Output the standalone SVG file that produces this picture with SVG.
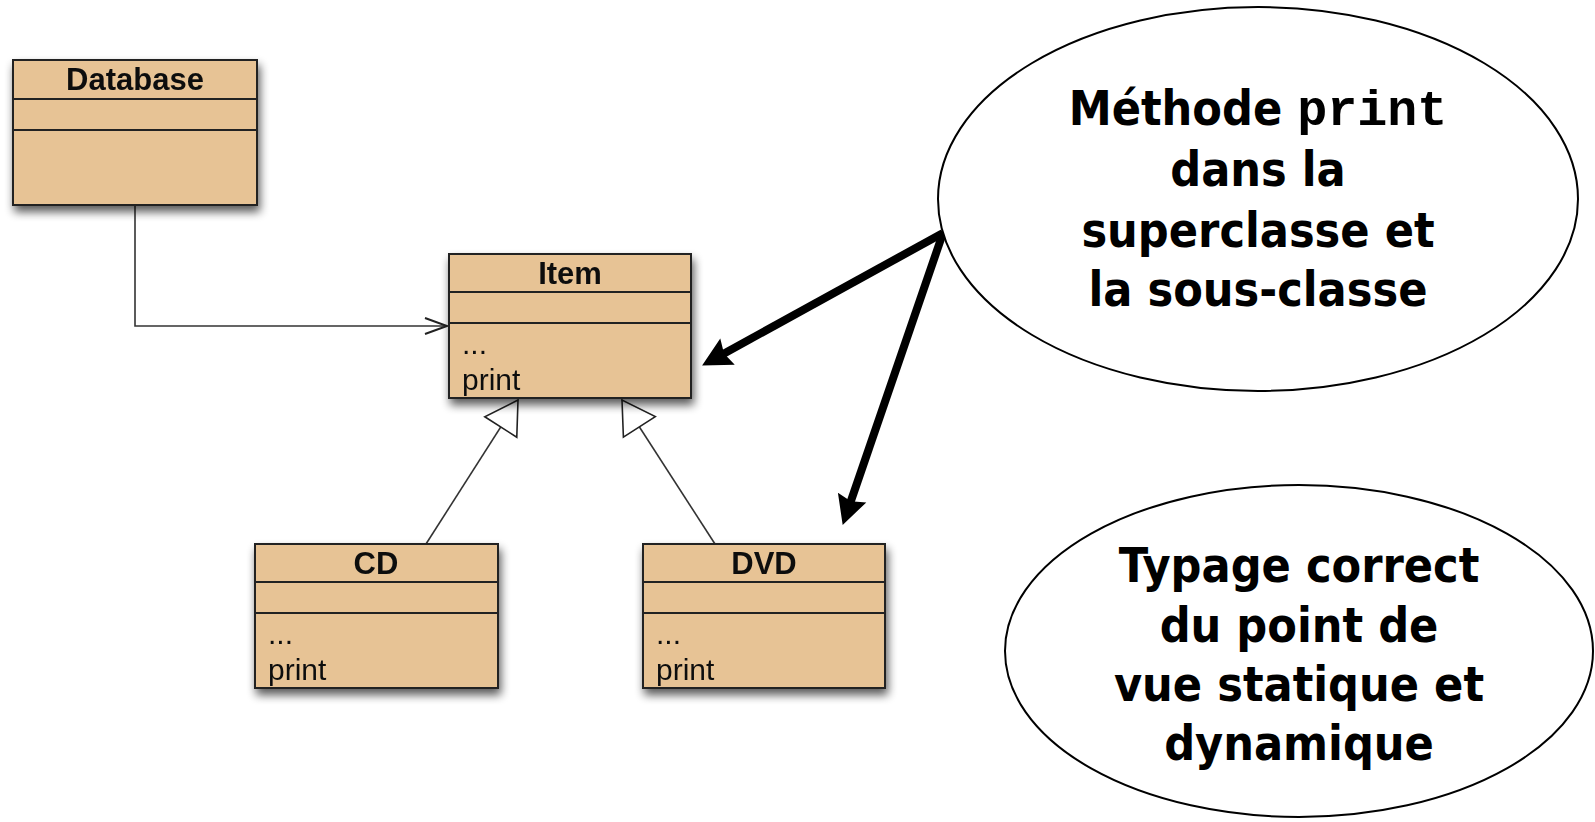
<svg xmlns="http://www.w3.org/2000/svg" width="1595" height="822" viewBox="0 0 1595 822">
  <defs>
    <filter id="shadow" x="-15%" y="-15%" width="140%" height="150%">
      <feGaussianBlur in="SourceAlpha" stdDeviation="5"/>
      <feOffset dx="2" dy="6" result="blur"/>
      <feComponentTransfer><feFuncA type="linear" slope="0.65"/></feComponentTransfer>
      <feMerge><feMergeNode/><feMergeNode in="SourceGraphic"/></feMerge>
    </filter>
    <!-- open arrow for association -->
    <marker id="open" markerUnits="userSpaceOnUse" orient="auto" overflow="visible" refX="0" refY="0">
      <path d="M-22,-8 L0,0 L-22,8" fill="none" stroke="#222" stroke-width="2"/>
    </marker>
    <!-- hollow triangle for generalisation -->
    <marker id="gen" markerUnits="userSpaceOnUse" orient="auto" overflow="visible" refX="0" refY="0">
      <path d="M0,0 L-32,-19 L-32,19 Z" fill="#fff" stroke="#222" stroke-width="1.6"/>
    </marker>
    <!-- solid head for the thick callout arrows -->
    <marker id="solid" markerUnits="userSpaceOnUse" orient="auto" overflow="visible" refX="0" refY="0">
      <path d="M21,0 L-8,-15 L-4,0 L-8,15 Z" fill="#000"/>
    </marker>
  </defs>
  <style>
    .box { fill: #E7C395; stroke: #222; stroke-width: 2; }
    .sep { stroke: #222; stroke-width: 2; }
    .title { font-family: "Liberation Sans", Arial, sans-serif; font-weight: bold; font-size: 31px; fill: #111; text-anchor: middle; }
    .member { font-family: "Liberation Sans", Arial, sans-serif; font-size: 30px; fill: #111; }
    .thin { fill: none; stroke: #333; stroke-width: 1.6; }
    .thick { fill: none; stroke: #000; stroke-width: 8; }
    .bubble { fill: #fff; stroke: #000; stroke-width: 2; }
    .note { font-family: "DejaVu Sans Condensed", "DejaVu Sans", sans-serif; font-stretch: condensed; font-weight: bold; font-size: 48px; fill: #000; text-anchor: middle; }
    .code { font-family: "Liberation Mono", "Courier New", monospace; font-weight: bold; font-size: 50px; }
  </style>

  <rect width="1595" height="822" fill="#fff"/>

  <!-- connectors -->
  <g id="connectors">
    <polyline class="thin" points="135,206 135,326 447,326" marker-end="url(#open)"/>
    <line class="thin" x1="426" y1="544" x2="518" y2="400" marker-end="url(#gen)"/>
    <line class="thin" x1="715" y1="544" x2="622" y2="400" marker-end="url(#gen)"/>
    <line class="thick" x1="943" y1="233" x2="720.5" y2="355.4" marker-end="url(#solid)"/>
    <line class="thick" x1="943" y1="233" x2="849.5" y2="505.1" marker-end="url(#solid)"/>
  </g>

  <g id="database" filter="url(#shadow)">
    <rect class="box" x="13" y="60" width="244" height="145"/>
    <line class="sep" x1="13" y1="99" x2="257" y2="99"/>
    <line class="sep" x1="13" y1="130" x2="257" y2="130"/>
    <text class="title" x="135" y="90">Database</text>
  </g>

  <g id="item" filter="url(#shadow)">
    <rect class="box" x="449" y="254" width="242" height="144"/>
    <line class="sep" x1="449" y1="292" x2="691" y2="292"/>
    <line class="sep" x1="449" y1="323" x2="691" y2="323"/>
    <text class="title" x="570" y="284">Item</text>
    <text class="member" x="462" y="354">...</text>
    <text class="member" x="462" y="390">print</text>
  </g>

  <g id="cd" filter="url(#shadow)">
    <rect class="box" x="255" y="544" width="243" height="144"/>
    <line class="sep" x1="255" y1="582" x2="498" y2="582"/>
    <line class="sep" x1="255" y1="613" x2="498" y2="613"/>
    <text class="title" x="376" y="574">CD</text>
    <text class="member" x="268" y="644">...</text>
    <text class="member" x="268" y="680">print</text>
  </g>

  <g id="dvd" filter="url(#shadow)">
    <rect class="box" x="643" y="544" width="242" height="144"/>
    <line class="sep" x1="643" y1="582" x2="885" y2="582"/>
    <line class="sep" x1="643" y1="613" x2="885" y2="613"/>
    <text class="title" x="764" y="574">DVD</text>
    <text class="member" x="656" y="644">...</text>
    <text class="member" x="656" y="680">print</text>
  </g>

  <g id="note-print">
    <ellipse class="bubble" cx="1258" cy="199" rx="320" ry="192"/>
    <text class="note" x="1258" y="125">Méthode <tspan class="code">print</tspan></text>
    <text class="note" x="1258" y="186">dans la</text>
    <text class="note" x="1258" y="247">superclasse et</text>
    <text class="note" x="1258" y="306">la sous-classe</text>
  </g>

  <g id="note-typing">
    <ellipse class="bubble" cx="1299" cy="651" rx="294" ry="166"/>
    <text class="note" x="1299" y="582">Typage correct</text>
    <text class="note" x="1299" y="642">du point de</text>
    <text class="note" x="1299" y="701">vue statique et</text>
    <text class="note" x="1299" y="760">dynamique</text>
  </g>
</svg>
